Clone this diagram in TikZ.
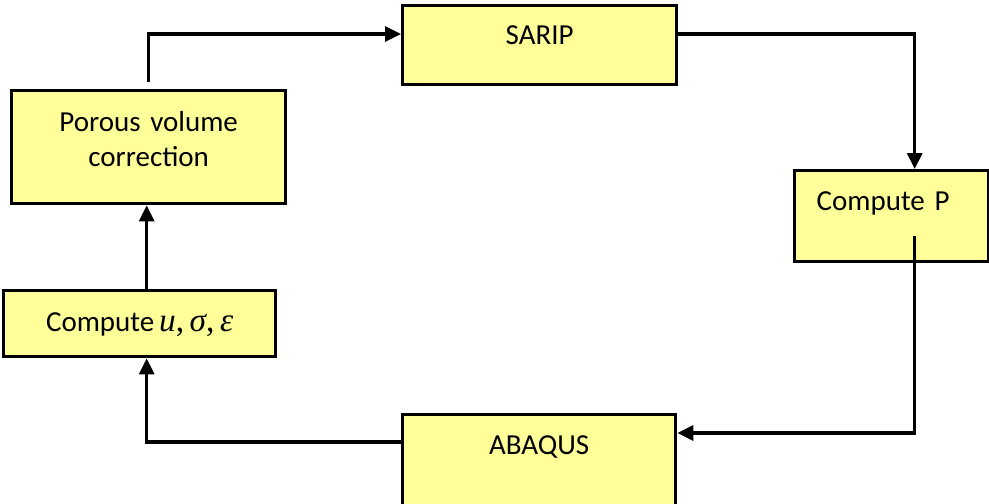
\documentclass[tikz,border=0pt]{standalone}
\usepackage{fontspec}
\setmainfont{Carlito}
\newfontfamily\mathserif{Liberation Serif}
\usepackage{xcolor}
\usepackage{tikz}
\usetikzlibrary{arrows.meta,positioning,calc}
\definecolor{boxyellow}{HTML}{FFFF99}
\tikzset{
    blk/.style={draw, line width=0.068cm, fill=boxyellow, inner sep=0pt, anchor=north west,
        font=\fontsize{16.5}{19.9}\selectfont},
    flow/.style={line width=0.065cm, -{Triangle[length=0.32cm,width=0.3cm]}}
}
\begin{document}
\begin{tikzpicture}[x=0.02cm,y=-0.02cm]
            \useasboundingbox (0,0) rectangle (989,503);
            \node[blk, minimum width=5.48cm, text height=0.78cm, text depth=0.8cm] (sarip) at (401,4) {SARIP};
            \node[blk, minimum width=5.46cm, text height=0.8cm, text depth=1.04cm] (abaqus) at (401,413) {ABAQUS};
            \node[blk, inner xsep=0.44cm, text width=3.0cm, align=left, text height=0.8cm, text depth=1.02cm] (cp) at (793,169) {Compute P};
            \node[blk, text width=5.48cm, align=center, text height=0.82cm, text depth=1.44cm] (porous) at (10,89) {Porous volume\\correction};
            \node[blk, minimum width=5.44cm, text height=0.82cm, text depth=0.5cm] (cuse) at (2,289)
                {Compute\,{\mathserif\fontsize{19}{20}\selectfont\itshape u\upshape,\,\itshape σ\upshape,\,\itshape ε}};
            \draw[flow] ([yshift=0.14cm]porous.north) |- ([yshift=-0.6cm]sarip.north west);
            \draw[flow] ([yshift=-0.6cm]sarip.north east) -| ([xshift=0.46cm]cp.north);
            \draw[flow] ([xshift=0.46cm,yshift=0.54cm]cp.south) |- ([yshift=-0.4cm]abaqus.north east);
            \draw[flow] ([yshift=-0.58cm]abaqus.north west) -| ([xshift=0.14cm]cuse.south);
            \draw[flow] ([xshift=0.14cm]cuse.north) -- ([xshift=0.14cm]cuse.north |- porous.south);
        \end{tikzpicture}
\end{document}
